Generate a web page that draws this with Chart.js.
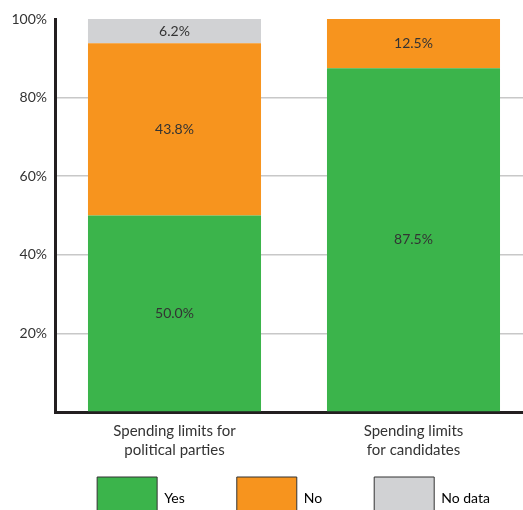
<!DOCTYPE html>
<html>
<head>
<meta charset="utf-8">
<script src="https://cdn.jsdelivr.net/npm/chart.js@4"></script>
<style>
  html, body { margin: 0; padding: 0; background: #fff; overflow: hidden; }
  #wrap { position: relative; width: 533px; height: 528px; }
</style>
</head>
<body>
<div id="wrap"><canvas id="chart"></canvas></div>
<script>
// Categories and series (percent of countries)
const categories = [['Spending limits for', 'political parties'], ['Spending limits', 'for candidates']];
const yesValues = [50.0, 87.5];
const noValues = [43.8, 12.5];
const noDataValues = [6.2, 0];
const seriesNames = ['Yes', 'No', 'No data'];
const yTicks = [0, 20, 40, 60, 80, 100];

const C = {
  green: '#3bb44b',
  orange: '#f7941e',
  gray: '#d1d2d4',
  ink: '#333333',
  axis: '#231f20',
  grid: '#c8c8c8',
};

const FONT = 'Lato, "Open Sans", "DejaVu Sans", sans-serif';
const LEGEND_PAD = 52;

// draws value text centred inside each stacked segment
const segmentLabels = {
  id: 'segmentLabels',
  afterDatasetsDraw(chart) {
    const ctx = chart.ctx;
    ctx.save();
    ctx.font = '14px ' + FONT;
    ctx.fillStyle = C.ink;
    ctx.textAlign = 'center';
    ctx.textBaseline = 'middle';
    chart.data.datasets.forEach((ds, i) => {
      chart.getDatasetMeta(i).data.forEach((bar, j) => {
        const v = ds.data[j];
        if (!v) return;
        const { x, y, base } = bar.getProps(['x', 'y', 'base'], true);
        ctx.fillText(v.toFixed(1) + '%', x, (y + base) / 2);
      });
    });
    ctx.restore();
  },
};

// legend padding is wide for spacing between items; pull the row up under
// the axis labels and a little to the right, under the plot
const legendNudge = {
  id: 'legendNudge',
  afterLayout(chart) {
    const lg = chart.legend;
    if (!lg) return;
    const top = chart.chartArea.bottom + 65 - LEGEND_PAD;
    const h = lg.bottom - lg.top;
    lg.top = top;
    lg.bottom = top + h;
    lg.left += 27;
    lg.right += 27;
  },
};

new Chart(document.getElementById('chart'), {
  type: 'bar',
  data: {
    labels: categories,
    datasets: [
      { label: seriesNames[0], data: yesValues, backgroundColor: C.green },
      { label: seriesNames[1], data: noValues, backgroundColor: C.orange },
      { label: seriesNames[2], data: noDataValues, backgroundColor: C.gray },
    ],
  },
  options: {
    responsive: true,
    maintainAspectRatio: false,
    animation: false,
    layout: { padding: { top: 19, left: 0, right: 0, bottom: -45 } },
    datasets: { bar: { categoryPercentage: 1, barPercentage: 0.724 } },
    scales: {
      x: {
        stacked: true,
        grid: { display: false, drawTicks: false },
        border: { color: C.axis, width: 3 },
        ticks: { color: C.ink, font: { family: FONT, size: 15, lineHeight: 1.3 }, padding: 9 },
      },
      y: {
        stacked: true,
        min: 0,
        max: 100,
        afterBuildTicks: (s) => { s.ticks = yTicks.map((v) => ({ value: v })); },
        afterFit: (s) => { s.width = 55; },
        border: { color: C.axis, width: 3 },
        grid: {
          drawTicks: false,
          color: (ctx) => (ctx.tick && (ctx.tick.value === 0 || ctx.tick.value === 100)) ? 'rgba(0,0,0,0)' : C.grid,
          lineWidth: 1.5,
        },
        ticks: {
          color: C.ink,
          padding: 8,
          font: { family: FONT, size: 14 },
          callback: (v) => (v === 0 ? '' : v + '%'),
        },
      },
    },
    plugins: {
      legend: {
        position: 'bottom',
        labels: {
          boxWidth: 60,
          boxHeight: 42,
          padding: LEGEND_PAD,
          color: C.ink,
          font: { family: FONT, size: 14 },
          generateLabels: (chart) => chart.data.datasets.map((ds, i) => ({
            text: ds.label,
            fillStyle: ds.backgroundColor,
            strokeStyle: C.ink,
            lineWidth: 1,
            datasetIndex: i,
          })),
        },
      },
      tooltip: { enabled: false },
    },
  },
  plugins: [segmentLabels, legendNudge],
});
</script>
</body>
</html>
